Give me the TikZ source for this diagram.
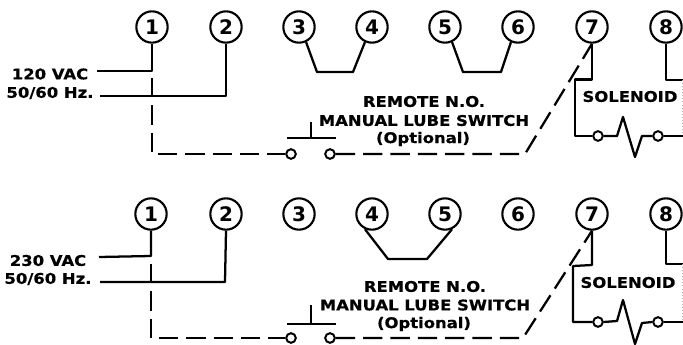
\documentclass[tikz,border=0pt]{standalone}
\usepackage{fontspec}
\setmainfont{DejaVu Sans}
\newfontfamily\widebold[FakeStretch=1.12,FakeBold=0.6]{DejaVu Sans Bold}
\tikzset{
  x=0.75pt,y=-0.75pt,
  wire/.style={line width=1.7pt,line join=round},
  dwire/.style={wire,dash pattern=on 14.5pt off 6pt},
  term/.style={draw,circle,line width=1.6pt,minimum size=23.5pt,inner sep=0pt,font=\bfseries\fontsize{15}{16}\selectfont},
  contact/.style={draw,circle,line width=1.5pt,minimum size=7.2pt,inner sep=0pt},
  lbl/.style={inner sep=0pt,font=\widebold\fontsize{11}{12}\selectfont},
  faint/.style={line width=0.3pt,gray!60,dotted}
}
\begin{document}
\begin{tikzpicture}
\useasboundingbox (0,0) rectangle (683,344);
% ---------- top ----------
\foreach \n/\x in {1/152,2/226,3/299,4/372,5/445,6/518,7/592,8/666}
  \node[term] (a\n) at (\x,27) {\n};
\node[lbl] (av) at (50,74) {120 VAC};
\node[lbl] (ah) at (50,93) {50/60 Hz.};
\coordinate (al1) at (97,71);
\coordinate (al2) at (100,96);
\draw[wire] (al1) -- (152,71) -- (a1.south);
\draw[wire] (al2) -- (226,96) -- (a2.south);
\draw[wire] (a3.-65) -- (317,72) -- (353,72) -- (a4.-115);
\draw[wire] (a5.-65) -- (463,72) -- (501,72) -- (a6.-115);
\node[contact] (ac1) at (291,154) {};
\node[contact] (ac2) at (330,154) {};
\draw[dwire] (152,78) -- (152,154) -- (ac1.west);
\draw[dwire] (ac2.east) -- (525,154) -- (a7.south);
\coordinate (ab1) at (287,138);
\coordinate (ab2) at (336,138);
\coordinate (abt) at (311,122);
\draw[wire] (ab1) -- (ab2);
\draw[wire] (abt) -- (311,138);
\node[lbl] (ar) at (424,101.5) {REMOTE N.O.};
\node[lbl] (am) at (424,120.5) {MANUAL LUBE SWITCH};
\node[lbl] (ao) at (423,139) {(Optional)};
\node[lbl] (as) at (630,96.5) {SOLENOID};
\node[contact] (as1) at (598,136) {};
\node[contact] (as2) at (658,136) {};
\coordinate (ae) at (683,136);
\draw[wire] (a7.south) -- (592,79.5) -- (575,79.5) -- (575,136) -- (as1.west);
\draw[wire] (as1.east) -- (617,136) -- (623,117) -- (635,157) -- (642,136) -- (as2.west);
\draw[wire] (as2.east) -- (ae);
\draw[wire] (a8.south) -- (666,80) -- (683,80);
\draw[faint] (682,80) -- (682,135);
% ---------- bottom ----------
\foreach \n/\x in {1/151,2/226,3/299,4/372,5/445,6/518,7/592,8/666}
  \node[term] (b\n) at (\x,214) {\n};
\node[lbl] (bv) at (48,260.5) {230 VAC};
\node[lbl] (bh) at (48,279) {50/60 Hz.};
\coordinate (bl1) at (99,257);
\coordinate (bl2) at (100,282);
\draw[wire] (bl1) -- (151,256) -- (b1.south);
\draw[wire] (bl2) -- (225,282) -- (b2.south);
\draw[wire] (b4.-115) -- (388,259) -- (427,259) -- (b5.-65);
\node[contact] (bc1) at (291,338) {};
\node[contact] (bc2) at (330,338) {};
\draw[dwire] (151,264) -- (151,338) -- (bc1.west);
\draw[dwire] (bc2.east) -- (523,338) -- (b7.south);
\coordinate (bb1) at (287,324);
\coordinate (bb2) at (336,324);
\coordinate (bbt) at (311,305);
\draw[wire] (bb1) -- (bb2);
\draw[wire] (bbt) -- (311,324);
\node[lbl] (br) at (425,286.5) {REMOTE N.O.};
\node[lbl] (bm) at (425,305) {MANUAL LUBE SWITCH};
\node[lbl] (bo) at (424,324) {(Optional)};
\node[lbl] (bs) at (628,282.5) {SOLENOID};
\node[contact] (bs1) at (598,322) {};
\node[contact] (bs2) at (658,322) {};
\coordinate (be) at (683,322);
\draw[wire] (b7.south) -- (592,265) -- (573,266) -- (573,322) -- (bs1.west);
\draw[wire] (bs1.east) -- (617,321) -- (623,300) -- (635,344) -- (642,323) -- (bs2.west);
\draw[wire] (bs2.east) -- (be);
\draw[wire] (b8.south) -- (666,264) -- (683,264);
\draw[faint] (682,264) -- (682,322);
\end{tikzpicture}
\end{document}
